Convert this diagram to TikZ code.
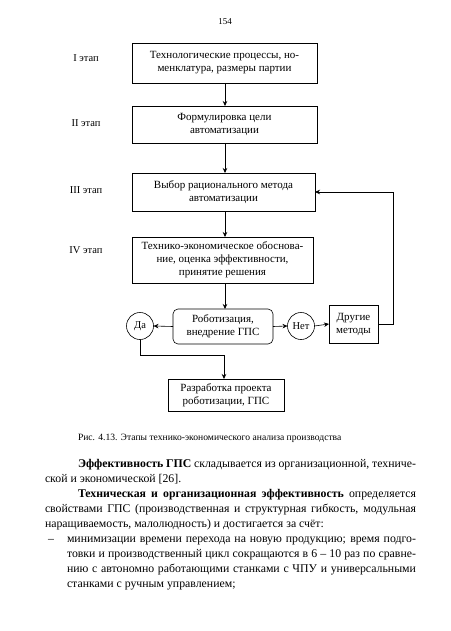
\documentclass[tikz,border=0pt]{standalone}
\usepackage{fontspec}
\setmainfont{Liberation Serif}
\usetikzlibrary{arrows.meta}
\begin{document}
\begin{tikzpicture}[x=1pt,y=-1pt,
  every node/.style={inner sep=0pt, outer sep=0pt},
  stepbox/.style={draw, line width=0.6pt, font=\fontsize{11}{13}\selectfont, align=center},
  circ/.style={draw, circle, line width=0.6pt, minimum size=27pt, font=\fontsize{10.5}{12}\selectfont},
  lab/.style={font=\fontsize{10.5}{12}\selectfont},
  body/.style={anchor=base west, font=\fontsize{11.8}{13}\selectfont},
  arr/.style={line width=0.6pt, -{Stealth[length=5pt,width=4.5pt]}},
  ln/.style={line width=0.6pt}]
\path[use as bounding box, fill=white] (0,0) rectangle (450,631);

\node[font=\fontsize{9}{10}\selectfont] (pg) at (225,22) {154};

\node[stepbox, minimum width=185pt, minimum height=40pt] (b1) at (224.5,63)
  {Технологические процессы, но-\\менклатура, размеры партии};
\node[stepbox, minimum width=185pt, minimum height=37pt] (b2) at (224.5,124.5)
  {Формулировка цели\\автоматизации};
\node[stepbox, minimum width=183pt, minimum height=38pt] (b3) at (223.5,192)
  {Выбор рационального метода\\автоматизации};
\node[stepbox, minimum width=181pt, minimum height=46pt] (b4) at (222.5,260)
  {Технико-экономическое обоснова-\\ние, оценка эффективности,\\принятие решения};
\node[stepbox, rounded corners=5pt, minimum width=100pt, minimum height=35pt] (gps) at (223,326.5)
  {Роботизация,\\внедрение ГПС};
\node[circ] (da) at (140,326) {Да};
\node[circ] (net) at (301,326) {Нет};
\node[stepbox, minimum width=49pt, minimum height=38pt] (oth) at (353.5,324)
  {Другие\\методы};
\node[stepbox, minimum width=116pt, minimum height=32pt] (razr) at (226,395)
  {Разработка проекта\\роботизации, ГПС};

\node[lab] (l1) at (86,58) {I этап};
\node[lab] (l2) at (86,123) {II этап};
\node[lab] (l3) at (86,190) {III этап};
\node[lab] (l4) at (86,250) {IV этап};

\draw[arr] (b1.south -| 225,0) -- (b2.north -| 225,0);
\draw[arr] (b2.south -| 225,0) -- (b3.north -| 225,0);
\draw[arr] (b3.south -| 225,0) -- (b4.north -| 225,0);
\draw[arr] (b4.south -| 225,0) -- (gps.north -| 225,0);
\draw[arr] (gps.west) -- (da.east);
\draw[arr] (gps.east) -- (net.west);
\draw[arr] (net.east) -- (oth.west);
\coordinate (fb) at (393,324);
\draw[arr] (oth.east) -- (fb) |- (b3.east);
\coordinate (j) at (224,355);
\draw[arr] (da.south) |- (j) -- (j |- razr.north);

\node[anchor=base west, font=\fontsize{9.6}{11}\selectfont] (cap) at (78,440)
  {Рис. 4.13. Этапы технико-экономического анализа производства};

\node[body] (t1) at (78,467) {\makebox[338pt][s]{\textbf{Эффективность ГПС} складывается из организационной, техниче-}};
\node[body] (t2) at (45,482) {ской и экономической [26].};
\node[body] (t3) at (78,497) {\makebox[338pt][s]{\textbf{Техническая и организационная эффективность} определяется}};
\node[body] (t4) at (45,512) {\makebox[371pt][s]{свойствами ГПС (производственная и структурная гибкость, модульная}};
\node[body] (t5) at (45,527) {наращиваемость, малолюдность) и достигается за счёт:};
\node[body] (t6d) at (48,542) {–};
\node[body] (t6) at (67,542) {\makebox[349pt][s]{минимизации времени перехода на новую продукцию; время подго-}};
\node[body] (t7) at (67,557) {\makebox[349pt][s]{товки и производственный цикл сокращаются в 6 – 10 раз по сравне-}};
\node[body] (t8) at (67,572) {\makebox[349pt][s]{нию с автономно работающими станками с ЧПУ и универсальными}};
\node[body] (t9) at (67,587) {станками с ручным управлением;};
\end{tikzpicture}
\end{document}
